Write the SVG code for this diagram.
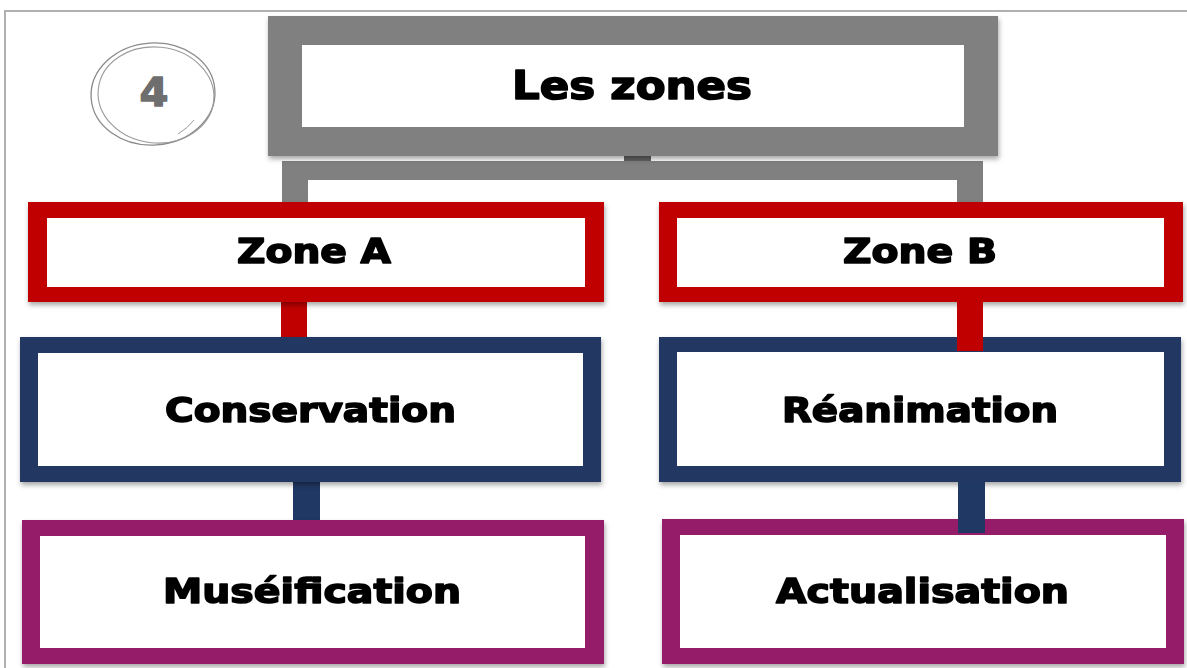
<svg xmlns="http://www.w3.org/2000/svg" width="1187" height="668" viewBox="0 0 1187 668">
  <defs>
    <filter id="sh" x="-5%" y="-10%" width="110%" height="125%">
      <feDropShadow dx="1" dy="3" stdDeviation="2.5" flood-color="#000" flood-opacity="0.35"/>
    </filter>
    <style>
      .lbl{font-family:"DejaVu Sans","Liberation Sans",sans-serif;font-weight:bold;font-size:34px;fill:#000;stroke:#000;stroke-width:1.6px;stroke-linejoin:round;text-anchor:middle}
      .inner{fill:#fff}
      .gray{fill:#808080}
      .red{fill:#c00000}
      .blue{fill:#203864}
      .purple{fill:#951f68}
    </style>
  </defs>
  <rect width="1187" height="668" fill="#fff"/>
  <!-- frame -->
  <path d="M5 668 V11 H1187" fill="none" stroke="#b0b0b0" stroke-width="2"/>

  <!-- number badge -->
  <g id="badge">
    <ellipse cx="153" cy="94" rx="62" ry="51" fill="none" stroke="#8a8a8a" stroke-width="1.3" transform="rotate(-4 153 94)"/>
    <ellipse cx="156" cy="95" rx="58" ry="48" fill="none" stroke="#9a9a9a" stroke-width="1.1" transform="rotate(6 156 95)"/>
    <path d="M178 134 Q188 128 194 120" fill="none" stroke="#9a9a9a" stroke-width="1"/>
    <text x="154" y="106" textLength="29" lengthAdjust="spacingAndGlyphs" font-family="DejaVu Sans, sans-serif" font-weight="bold" font-size="39" fill="#6e6e6e" stroke="#6e6e6e" stroke-width="1.4" stroke-linejoin="round" text-anchor="middle">4</text>
  </g>

  <!-- connectors -->
  <g id="connectors">
    <rect x="624" y="156" width="27" height="6" fill="#636363"/>
    <path class="gray" d="M282 161 H983 V203 H957 V180 H308 V203 H282 Z"/>
    <rect class="red" x="281" y="302" width="26" height="35"/>
    <rect class="blue" x="293" y="482" width="27" height="38"/>
  </g>

  <g id="title" filter="url(#sh)">
    <rect class="gray" x="268" y="16" width="730" height="140"/>
    <rect class="inner" x="302" y="45" width="662" height="82"/>
    <text class="lbl" x="632" y="99" textLength="240" lengthAdjust="spacingAndGlyphs" style="font-size:39px">Les zones</text>
  </g>

  <g id="zoneA" filter="url(#sh)">
    <rect class="red" x="28" y="202" width="576" height="100"/>
    <rect class="inner" x="47" y="218" width="538" height="69"/>
    <text class="lbl" x="314" y="263" textLength="154" lengthAdjust="spacingAndGlyphs">Zone A</text>
  </g>
  <g id="zoneB" filter="url(#sh)">
    <rect class="red" x="659" y="202" width="524" height="100"/>
    <rect class="inner" x="677" y="218" width="487" height="69"/>
    <text class="lbl" x="920" y="263" textLength="154" lengthAdjust="spacingAndGlyphs">Zone B</text>
  </g>

  <g id="conservation" filter="url(#sh)">
    <rect class="blue" x="20" y="337" width="581" height="145"/>
    <rect class="inner" x="38" y="353" width="545" height="113"/>
    <text class="lbl" x="310.5" y="422" textLength="291" lengthAdjust="spacingAndGlyphs">Conservation</text>
  </g>
  <g id="reanimation" filter="url(#sh)">
    <rect class="blue" x="659" y="337" width="522" height="145"/>
    <rect class="inner" x="677" y="352" width="487" height="114"/>
    <text class="lbl" x="920" y="422" textLength="276" lengthAdjust="spacingAndGlyphs">Réanimation</text>
  </g>

  <g id="museification" filter="url(#sh)">
    <rect class="purple" x="22" y="520" width="582" height="144"/>
    <rect class="inner" x="40" y="536" width="545" height="112"/>
    <text class="lbl" x="312" y="603" textLength="298" lengthAdjust="spacingAndGlyphs">Muséification</text>
  </g>
  <g id="actualisation" filter="url(#sh)">
    <rect class="purple" x="662" y="519" width="522" height="145"/>
    <rect class="inner" x="680" y="535" width="486" height="113"/>
    <text class="lbl" x="922.5" y="603" textLength="293" lengthAdjust="spacingAndGlyphs">Actualisation</text>
  </g>

  <!-- overlapping connectors on the right column -->
  <g id="connectors-over">
    <rect class="red" x="957" y="302" width="26" height="49"/>
    <rect class="blue" x="958" y="482" width="27" height="51"/>
  </g>
</svg>
